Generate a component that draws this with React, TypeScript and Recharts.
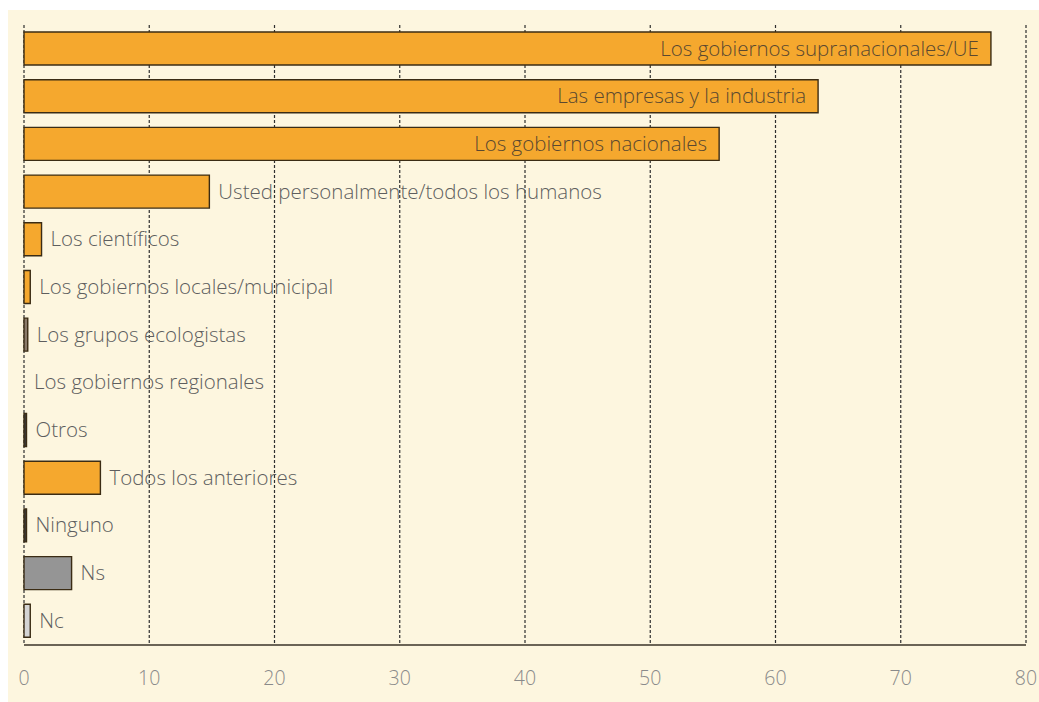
import { BarChart, Bar, XAxis, YAxis, CartesianGrid, Cell, LabelList } from 'recharts';

const categories = [
  'Los gobiernos supranacionales/UE',
  'Las empresas y la industria',
  'Los gobiernos nacionales',
  'Usted personalmente/todos los humanos',
  'Los científicos',
  'Los gobiernos locales/municipal',
  'Los grupos ecologistas',
  'Los gobiernos regionales',
  'Otros',
  'Todos los anteriores',
  'Ninguno',
  'Ns',
  'Nc',
];

const values = [77.2, 63.4, 55.5, 14.8, 1.4, 0.5, 0.3, 0, 0.2, 6.1, 0.2, 3.8, 0.5];

const barColors = [
  '#f5a82e', '#f5a82e', '#f5a82e', '#f5a82e', '#f5a82e', '#f5a82e',
  '#8a7a6a', 'transparent', '#3a3a3a', '#f5a82e', '#3a3a3a', '#959595', '#d4d4d4',
];

const xTicks = [0, 10, 20, 30, 40, 50, 60, 70, 80];

const data = categories.map((name, i) => ({ name, value: values[i] }));

const FONT = '"Open Sans", "DejaVu Sans", sans-serif';

// long bars carry their label inside, the rest get it just past the bar end
const renderLabel = (props: any) => {
  const { x, y, width, height, value } = props;
  const idx = categories.indexOf(value);
  const inside = values[idx] > 40;
  return (
    <text
      x={inside ? x + width - 12 : x + width + 9}
      y={y + height / 2 - 1}
      textAnchor={inside ? 'end' : 'start'}
      dominantBaseline="central"
      fontFamily={FONT}
      fontSize={20.5}
      fontWeight={300}
      fill={inside ? '#5a4830' : '#5e5e5e'}
    >
      {value}
    </text>
  );
};

export default function App() {
  return (
    <div style={{ position: 'absolute', left: 0, top: 0, width: 1039, height: 702, background: '#ffffff' }}>
      <div style={{ position: 'absolute', left: 8, top: 10, right: 0, bottom: 0, background: '#fdf6df' }} />
      <div style={{ position: 'absolute', left: 0, top: 0 }}>
        <BarChart
          width={1039}
          height={702}
          data={data}
          layout="vertical"
          margin={{ top: 25, right: 13, left: 24, bottom: 27 }}
        >
          <CartesianGrid horizontal={false} strokeDasharray="3 2" stroke="#2e2e2e" strokeWidth={1.2} />
          <XAxis
            type="number"
            domain={[0, 80]}
            ticks={xTicks}
            axisLine={{ stroke: '#3a3328', strokeWidth: 1.5 }}
            tickLine={false}
            tickMargin={20}
            tick={{ fill: '#8a8a8a', fontSize: 19.5, fontFamily: FONT, fontWeight: 300 }}
            interval={0}
          />
          <YAxis
            type="category"
            dataKey="name"
            width={0}
            tick={false}
            tickLine={false}
            axisLine={{ stroke: '#111', strokeWidth: 1.5 }}
          />
          <Bar dataKey="value" barSize={33} minPointSize={1} stroke="#3b2c14" strokeWidth={1.4} isAnimationActive={false}>
            {data.map((d, i) => (
              <Cell key={d.name} fill={barColors[i]} stroke={d.value === 0 ? 'none' : '#3b2c14'} />
            ))}
            <LabelList dataKey="name" content={renderLabel} />
          </Bar>
        </BarChart>
      </div>
    </div>
  );
}
